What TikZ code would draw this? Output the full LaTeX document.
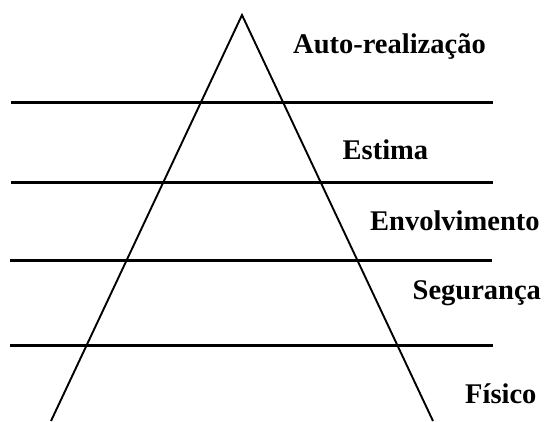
\documentclass[tikz,border=0pt]{standalone}
\usepackage{fontspec}
\setmainfont{Liberation Serif}
\tikzset{
  level/.style={line width=2.6pt},
  side/.style={line width=1.9pt},
  lbl/.style={anchor=base west, inner sep=0pt, font=\fontsize{28.5}{30}\selectfont\bfseries}
}
\begin{document}
\begin{tikzpicture}[x=1pt,y=-1pt]
\useasboundingbox (0,0) rectangle (544,421);
% triangle
\coordinate (apex) at (242,15);
\coordinate (bl) at (51,421);
\coordinate (br) at (433,421);
\draw[side, line join=miter] (bl) -- (apex) -- (br);
% horizontal levels
\coordinate (l1a) at (11,102.5); \coordinate (l1b) at (493,102.5);
\coordinate (l2a) at (11,182.5); \coordinate (l2b) at (493,182.5);
\coordinate (l3a) at (10,260.5); \coordinate (l3b) at (492,260.5);
\coordinate (l4a) at (10,345.5); \coordinate (l4b) at (493,345.5);
\draw[level] (l1a) -- (l1b);
\draw[level] (l2a) -- (l2b);
\draw[level] (l3a) -- (l3b);
\draw[level] (l4a) -- (l4b);
% labels
\node[lbl] (auto) at (293,53.7) {Auto-realização};
\node[lbl] (estima) at (342.5,159.3) {Estima};
\node[lbl] (envolv) at (370,230) {Envolvimento};
\node[lbl] (seg) at (412.5,299.3) {Segurança};
\node[lbl] (fisico) at (465,403) {Físico};
\end{tikzpicture}
\end{document}
